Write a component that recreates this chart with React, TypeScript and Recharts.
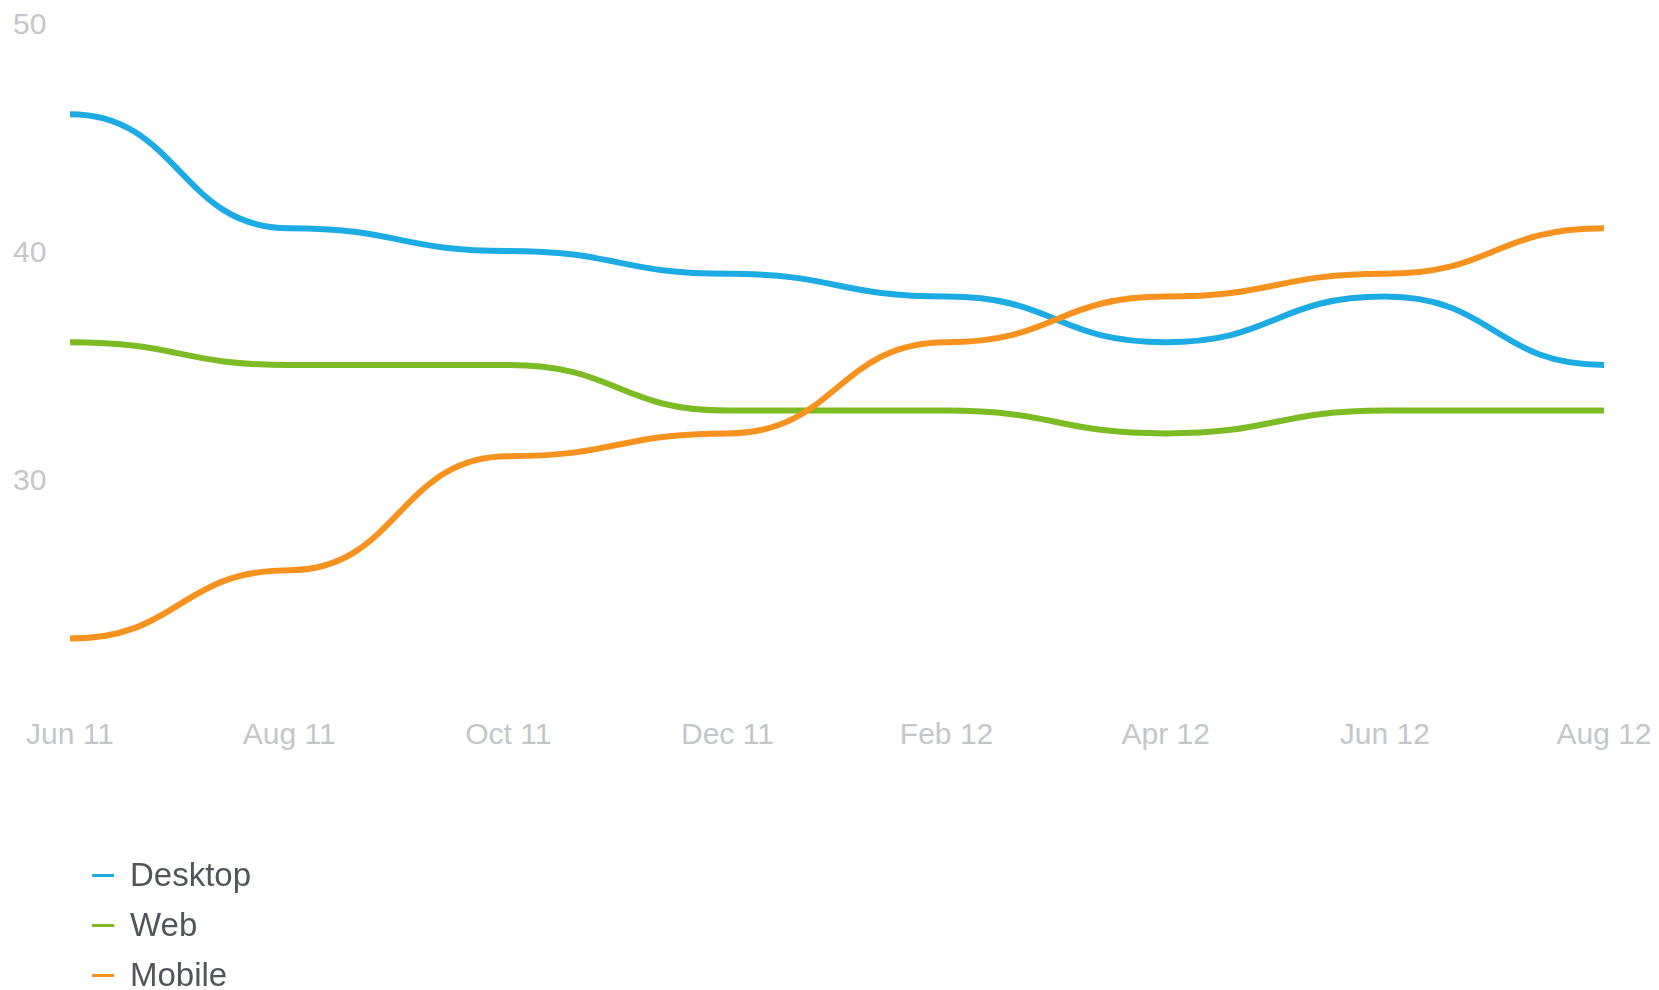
import { Legend, Line, LineChart, XAxis, YAxis } from "recharts";

// bimonthly samples, share of users (%)
const MONTHS = ["Jun 11", "Aug 11", "Oct 11", "Dec 11", "Feb 12", "Apr 12", "Jun 12", "Aug 12"];
const DESKTOP = [46, 41, 40, 39, 38, 36, 38, 35];
const WEB = [36, 35, 35, 33, 33, 32, 33, 33];
const MOBILE = [23, 26, 31, 32, 36, 38, 39, 41];
const Y_TICKS = [30, 40, 50];
const LEGEND_ORDER = ["Desktop", "Web", "Mobile"];

const DESKTOP_COLOR = "#1DABE3";
const WEB_COLOR = "#7CBB24";
const MOBILE_COLOR = "#F7921E";
const TICK_COLOR = "#C3C7C9";
const FONT = '"Liberation Sans", Arial, Helvetica, sans-serif';

const data = MONTHS.map((month, i) => ({
  month,
  desktop: DESKTOP[i],
  web: WEB[i],
  mobile: MOBILE[i],
}));

function YTick({ y, payload }: any) {
  return (
    <text x={13} y={y} dy="0.35em" textAnchor="start" fill={TICK_COLOR} fontSize={30} fontFamily={FONT}>
      {payload.value}
    </text>
  );
}

function XTick({ x, y, payload }: any) {
  return (
    <text x={x} y={y + 26} dy="0.35em" textAnchor="middle" fill={TICK_COLOR} fontSize={30} fontFamily={FONT}>
      {payload.value}
    </text>
  );
}

function LegendList({ payload }: any) {
  const items = [...(payload || [])].sort(
    (a: any, b: any) => LEGEND_ORDER.indexOf(a.value) - LEGEND_ORDER.indexOf(b.value)
  );
  return (
    <div style={{ fontFamily: FONT }}>
      {items.map((item: any) => (
        <div key={item.value} style={{ display: "flex", alignItems: "center", height: 50 }}>
          <span style={{ width: 22, height: 3, background: item.color, marginRight: 16 }} />
          <span style={{ color: "#50565b", fontSize: 33 }}>{item.value}</span>
        </div>
      ))}
    </div>
  );
}

export default function App() {
  return (
    <div style={{ position: "fixed", left: 0, top: 0, width: 1659, height: 990, background: "#fff" }}>
      <LineChart
        width={1659}
        height={990}
        data={data}
        margin={{ top: 23, right: 55, left: 0, bottom: 230 }}
      >
        <XAxis
          dataKey="month"
          axisLine={false}
          tickLine={false}
          tickSize={0}
          tickMargin={0}
          height={53}
          interval={0}
          tick={<XTick />}
        />
        <YAxis
          width={70}
          domain={[20, 50]}
          ticks={Y_TICKS}
          axisLine={false}
          tickLine={false}
          tick={<YTick />}
        />
        <Legend
          layout="vertical"
          align="center"
          verticalAlign="middle"
          content={<LegendList />}
          wrapperStyle={{ left: 92, top: 850, width: 300 }}
        />
        <Line type="bumpX" dataKey="desktop" name="Desktop" stroke={DESKTOP_COLOR} strokeWidth={6} dot={false} activeDot={false} isAnimationActive={false} />
        <Line type="bumpX" dataKey="web" name="Web" stroke={WEB_COLOR} strokeWidth={6} dot={false} activeDot={false} isAnimationActive={false} />
        <Line type="bumpX" dataKey="mobile" name="Mobile" stroke={MOBILE_COLOR} strokeWidth={6} dot={false} activeDot={false} isAnimationActive={false} />
      </LineChart>
    </div>
  );
}
